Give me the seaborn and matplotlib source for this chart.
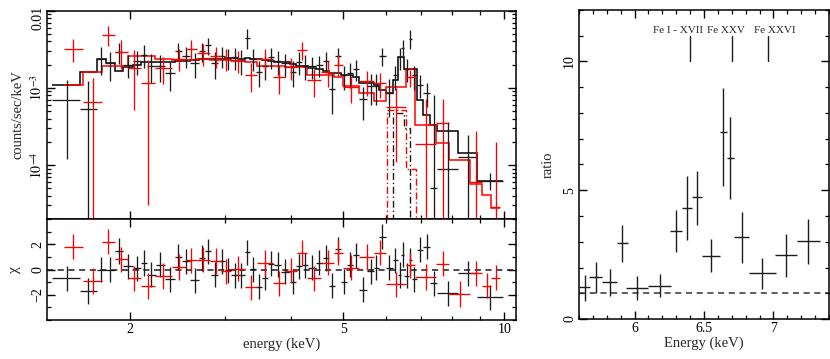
import numpy as np
import matplotlib
matplotlib.use("Agg")
import matplotlib.pyplot as plt
import matplotlib.transforms as mtransforms
from matplotlib.ticker import FixedLocator, FixedFormatter, NullFormatter, MultipleLocator, LogLocator
import seaborn as sns

# ---- spectrum 1 (black): bin edges in keV, rates in 1e-3 counts/sec/keV
blk_edges = [1.43, 1.61, 1.73, 1.80, 1.87, 1.94, 2.02, 2.09, 2.15, 2.23, 2.32, 2.42, 2.50, 2.59,
             2.69, 2.76, 2.83, 2.92, 3.01, 3.09, 3.18, 3.27, 3.35, 3.43, 3.52, 3.62, 3.72, 3.83,
             3.97, 4.08, 4.18, 4.29, 4.45, 4.58, 4.71, 4.83, 4.95, 5.08, 5.22, 5.36, 5.55, 5.70,
             5.83, 6.00, 6.19, 6.33, 6.42, 6.51, 6.63, 6.72, 6.87, 7.06, 7.28, 7.50, 8.20, 8.90, 9.95]
blk_flux = [0.69, 0.54, 2.40, 2.09, 2.95, 2.00, 2.24, 2.69, 1.95, 1.95, 1.55, 3.02, 2.63, 2.09,
            3.02, 3.55, 2.09, 2.63, 2.45, 2.51, 2.29, 4.47, 2.40, 1.62, 1.91, 2.51, 2.24, 2.09,
            1.62, 2.19, 1.95, 1.91, 2.00, 2.24, 0.98, 2.63, 1.45, 1.55, 1.78, 0.71, 1.05, 1.05,
            2.63, 0.87, 1.45, 2.51, 3.31, 1.78, 4.37, 1.45, 1.10, 0.87, 0.05, 0.089, 0.126, 0.063]
blk_err = [0.57, 0.69, 0.95, 0.87, 0.90, 0.66, 0.75, 0.90, 0.80, 0.75, 0.65, 0.80, 0.80, 0.75,
           0.85, 0.85, 0.80, 0.80, 0.75, 0.80, 0.80, 1.30, 0.75, 0.60, 0.65, 0.75, 0.75, 0.70,
           0.60, 0.70, 0.70, 0.60, 0.60, 0.70, 0.52, 0.65, 0.50, 0.55, 0.55, 0.33, 0.45, 0.45,
           0.70, 0.45, 0.50, 0.80, 0.90, 0.60, 1.20, 0.50, 0.35, 0.30, 0.75, 0.27, 0.12, 0.015]
blk_model = [1.10, 1.62, 2.40, 2.09, 1.66, 1.86, 2.00, 2.14, 2.19, 2.19, 2.19, 2.24, 2.24, 2.29,
             2.34, 2.40, 2.34, 2.40, 2.46, 2.46, 2.40, 2.46, 2.40, 2.34, 2.29, 2.24, 2.19, 2.14,
             2.04, 1.95, 1.91, 1.82, 1.74, 1.66, 1.58, 1.55, 1.45, 1.45, 1.38, 1.17, 1.15, 1.10,
             0.93, 0.85, 1.26, 2.51, 2.51, 1.78, 1.78, 1.78, 0.69, 0.44, 0.33, 0.28, 0.145, 0.063]
blk_chi = [-0.70, -1.70, 0.0, 0.0, 1.46, 0.26, 0.08, 0.52, -0.40, 0.39, -0.78, 1.0, 0.65, -0.86,
           0.91, 1.43, -0.42, 0.65, -0.05, -0.47, -0.47, 1.35, 0.02, -1.36, -0.65, 0.47, 0.39, -0.18,
           -0.96, 0.26, 0.34, 0.13, 0.54, 0.91, -1.28, 1.6, -0.96, 0.39, 1.12, -1.61, -0.13, 0.13,
           2.6, 0.13, 0.73, -0.44, 1.17, -0.49, 0.73, -0.78, 1.56, 1.82, -1.09, -1.88, -0.31, -2.19]

# ---- spectrum 2 (red)
red_edges = [1.50, 1.63, 1.77, 1.87, 1.98, 2.09, 2.22, 2.39, 2.54, 2.66, 2.82, 2.96, 3.09, 3.27,
             3.45, 3.70, 3.90, 4.10, 4.27, 4.55, 4.80, 5.00, 5.36, 5.72, 6.02, 6.54, 6.82, 7.45,
             7.90, 8.63, 9.09, 9.46, 9.82]
red_flux = [3.24, 0.66, 4.90, 2.95, 1.82, 1.15, 1.82, 2.40, 3.24, 2.82, 2.63, 2.40, 2.29, 1.48,
            2.40, 1.38, 1.86, 3.09, 1.26, 1.62, 2.00, 1.04, 1.23, 1.15, 0.56, 1.38, 0.19, 0.355,
            0.005, 0.06, 0.005, 0.029]
red_err = [1.1, 0.68, 1.4, 1.2, 1.3, 1.12, 0.7, 0.75, 0.9, 0.9, 0.8, 0.75, 0.75, 0.6,
           0.75, 0.55, 0.6, 0.8, 0.5, 0.6, 0.6, 0.4, 0.45, 0.4, 0.45, 0.35, 0.53, 0.37,
           0.004, 0.22, 0.004, 0.17]
red_model = [1.10, 1.62, 1.91, 1.91, 2.63, 2.63, 2.34, 2.29, 2.29, 2.34, 2.29, 2.29, 2.24, 2.19,
             1.95, 1.95, 1.86, 1.86, 1.48, 1.48, 1.38, 1.07, 0.85, 0.68, 1.02, 1.78, 0.33, 0.195,
             0.115, 0.0575, 0.041, 0.028]
red_chi = [1.82, -0.91, 2.21, 0.80, -0.70, -1.30, -0.52, 0.20, 0.73, 0.78, 0.67, -0.13, 0.05, -1.41,
           0.52, -1.10, -0.10, 1.30, -0.70, 0.54, 1.33, 0.15, 0.99, 1.33, -1.17, 0.34, -0.60, 0.47,
           -1.95, -0.31, -1.28, -0.65]

# Fe line model components (dash-dot)
blk_line_edges = [6.19, 6.51, 6.67]
blk_line = [0.47, 0.30]
red_line_edges = [6.03, 6.55, 6.85]
red_line = [0.52, 0.089]

# ---- ratio panel
ratio_E = [5.64, 5.72, 5.82, 5.91, 6.02, 6.18, 6.30, 6.38, 6.45, 6.55, 6.64, 6.69, 6.77, 6.92, 7.09, 7.25]
ratio_dE = [0.04, 0.048, 0.054, 0.04, 0.08, 0.08, 0.045, 0.036, 0.035, 0.066, 0.028, 0.028, 0.054, 0.097, 0.08, 0.084]
ratio = [1.23, 1.63, 1.42, 2.94, 1.20, 1.29, 3.42, 4.31, 4.73, 2.46, 7.26, 6.25, 3.18, 1.77, 2.47, 3.04]
ratio_lo = [0.69, 1.0, 0.9, 2.23, 0.75, 0.85, 2.6, 3.08, 3.66, 1.81, 5.17, 4.66, 2.19, 1.16, 1.63, 2.15]
ratio_hi = [1.71, 2.2, 1.94, 3.65, 1.66, 1.75, 4.23, 5.54, 5.76, 3.12, 8.98, 7.85, 4.17, 2.37, 3.31, 3.88]
line_names = ["Fe I - XVII", "Fe XXV", "Fe XXVI"]
line_E = [6.40, 6.70, 6.96]
label_E = [6.31, 6.66, 7.01]

sns.set_theme(style="ticks")
plt.rcParams["font.family"] = ["Liberation Serif", "DejaVu Serif"]
plt.rcParams["mathtext.fontset"] = "stix"
plt.rcParams["axes.linewidth"] = 1.1
plt.rcParams["axes.edgecolor"] = "black"

BLK = "#1c1c1c"
RED = "#ff0000"


def bins(edges):
    e = np.array(edges)
    lo, hi = e[:-1], e[1:]
    return lo, hi, (lo + hi) / 2


def spectrum(ax, edges, flux, err, color):
    lo, hi, mid = bins(edges)
    f = np.array(flux) * 1e-3
    s = np.array(err) * 1e-3
    ax.errorbar(mid, f, xerr=[mid - lo, hi - mid], yerr=[np.minimum(s, f - 1e-8), s],
                fmt="none", ecolor=color, elinewidth=0.95)


def residual(ax, edges, chi, color):
    lo, hi, mid = bins(edges)
    ax.errorbar(mid, chi, xerr=[mid - lo, hi - mid], yerr=1.0,
                fmt="none", ecolor=color, elinewidth=0.95)


def ticks(ax):
    ax.tick_params(which="both", direction="in", top=True, right=True, colors="black",
                   labelsize=10, pad=2)
    ax.tick_params(which="major", length=6, width=1.0)
    ax.tick_params(which="minor", length=3, width=0.9)


fig = plt.figure(figsize=(8.3, 3.59), dpi=100)
ax1 = fig.add_axes([0.0572, 0.390, 0.5639, 0.580])
ax2 = fig.add_axes([0.0572, 0.1086, 0.5639, 0.2814], sharex=ax1)
ax3 = fig.add_axes([0.6976, 0.1114, 0.3012, 0.8608])

# main spectrum panel
spectrum(ax1, blk_edges, blk_flux, blk_err, BLK)
spectrum(ax1, red_edges, red_flux, red_err, RED)
ax1.stairs(np.array(blk_model) * 1e-3, blk_edges, baseline=None, color="black", lw=1.1)
ax1.stairs(np.array(red_model) * 1e-3, red_edges, baseline=None, color=RED, lw=1.1)
ax1.stairs(np.array(blk_line) * 1e-3, blk_line_edges, baseline=1e-8, color=BLK, lw=1.0,
           ls=(0, (5, 2, 1, 2)))
ax1.stairs(np.array(red_line) * 1e-3, red_line_edges, baseline=1e-8, color=RED, lw=1.0,
           ls=(0, (5, 2, 1, 2)))
ax1.set_xscale("log")
ax1.set_yscale("log")
ax1.set_xlim(1.4, 10.5)
ax1.set_ylim(2e-5, 1e-2)
ax1.yaxis.set_major_locator(FixedLocator([1e-4, 1e-3, 1e-2]))
ax1.yaxis.set_major_formatter(FixedFormatter([r"$10^{-4}$", r"$10^{-3}$", "0.01"]))
ax1.yaxis.set_minor_locator(LogLocator(base=10, subs=range(2, 10), numticks=20))
ax1.yaxis.set_minor_formatter(NullFormatter())
ax1.set_ylabel("counts/sec/keV", fontsize=10.5, labelpad=3)
ticks(ax1)
ax1.tick_params(axis="x", labelbottom=False)
for lab in ax1.get_yticklabels():
    lab.set_rotation(90)
    lab.set_va("center")
top_lab = ax1.get_yticklabels()[-1]
top_lab.set_transform(top_lab.get_transform() +
                      mtransforms.ScaledTranslation(0, -5 / 72, fig.dpi_scale_trans))

# residuals
ax2.axhline(0, color=BLK, ls=(0, (4, 3)), lw=1.1)
residual(ax2, blk_edges, blk_chi, BLK)
residual(ax2, red_edges, red_chi, RED)
ax2.set_ylim(-4, 4)
ax2.xaxis.set_major_locator(FixedLocator([2, 5, 10]))
ax2.xaxis.set_major_formatter(FixedFormatter(["2", "5", "10"]))
ax2.xaxis.set_minor_locator(FixedLocator([3, 4, 6, 7, 8, 9]))
ax2.xaxis.set_minor_formatter(NullFormatter())
ax2.yaxis.set_major_locator(FixedLocator([-2, 0, 2]))
ax2.yaxis.set_minor_locator(MultipleLocator(1))
ax2.set_ylabel("χ", fontsize=11, labelpad=8)
ax2.set_xlabel("energy (keV)", fontsize=10.5, labelpad=1)
ticks(ax2)
for lab in ax2.get_yticklabels():
    lab.set_rotation(90)
    lab.set_va("center")

# ratio panel
r = np.array(ratio)
ax3.axhline(1, color="#333333", ls=(0, (4, 3)), lw=1.1)
ax3.errorbar(ratio_E, r, xerr=ratio_dE, yerr=[r - np.array(ratio_lo), np.array(ratio_hi) - r],
             fmt="none", ecolor=BLK, elinewidth=1.0)
for e in line_E:
    ax3.plot([e, e], [10, 11], color=BLK, lw=1.0)
for name, e in zip(line_names, label_E):
    ax3.text(e, 11.2, name, ha="center", va="center", fontsize=8)
ax3.set_xlim(5.6, 7.4)
ax3.set_ylim(0, 12)
ax3.xaxis.set_major_locator(FixedLocator([6, 6.5, 7]))
ax3.xaxis.set_major_formatter(FixedFormatter(["6", "6.5", "7"]))
ax3.xaxis.set_minor_locator(MultipleLocator(0.1))
ax3.yaxis.set_major_locator(MultipleLocator(5))
ax3.yaxis.set_minor_locator(MultipleLocator(1))
ax3.set_xlabel("Energy (keV)", fontsize=10.5, labelpad=1)
ax3.set_ylabel("ratio", fontsize=10.5, labelpad=6)
ticks(ax3)
for lab in ax3.get_yticklabels():
    lab.set_rotation(90)
    lab.set_va("center")

fig.savefig("out.png", dpi=100)
